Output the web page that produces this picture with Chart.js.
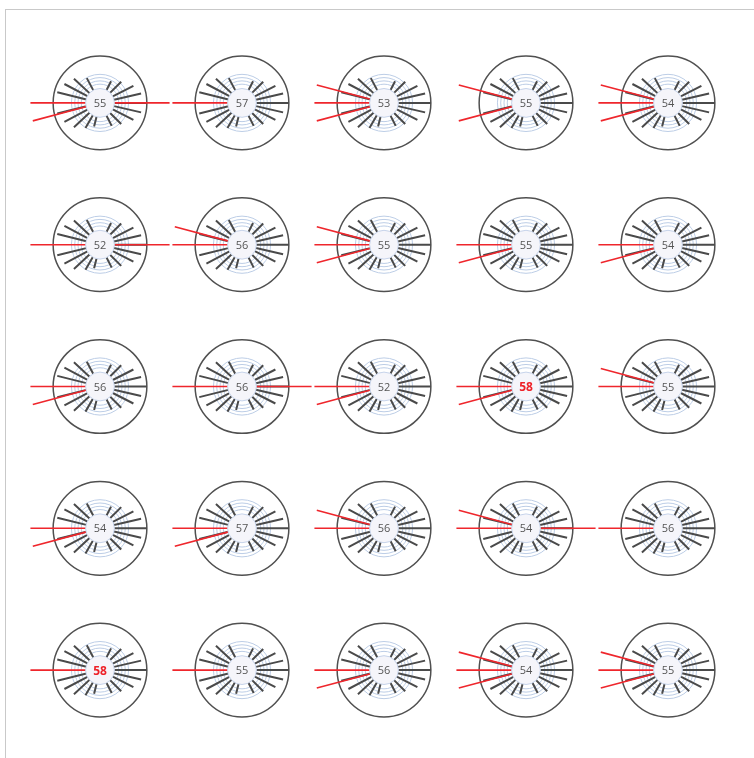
<!DOCTYPE html>
<html>
<head>
<meta charset="utf-8">
<title>Glyph grid</title>
<script src="https://cdn.jsdelivr.net/npm/chart.js@4.4.1/dist/chart.umd.min.js"></script>
<style>
    html, body { margin: 0; padding: 0; background: #fff; }
    #frame {
        position: absolute; left: 5px; top: 9px;
        width: 749px; height: 749px;
        border-top: 1px solid #c9c9c9; border-left: 1px solid #c9c9c9;
    }
    canvas { display: block; }
</style>
</head>
<body>
<div id="frame"><canvas id="myChart" width="748" height="748"></canvas></div>
<script>
// one value per glyph, read row by row (5 x 5)
const values = [55, 57, 53, 55, 54,
                52, 56, 55, 55, 54,
                56, 56, 52, 58, 55,
                54, 57, 56, 54, 56,
                58, 55, 56, 54, 55];

// which red whiskers each glyph has
const redUp    = [0, 0, 1, 1, 1,  0, 1, 1, 0, 0,  0, 0, 0, 0, 1,  0, 0, 1, 1, 0,  0, 0, 0, 1, 1];
const redMid   = [1, 1, 1, 0, 1,  1, 1, 1, 1, 1,  1, 1, 1, 1, 1,  1, 1, 1, 1, 1,  1, 1, 1, 1, 1];
const redDown  = [1, 0, 1, 1, 1,  0, 0, 1, 1, 1,  1, 0, 1, 1, 0,  1, 1, 0, 0, 0,  0, 0, 1, 1, 1];
const redRight = [1, 0, 0, 0, 0,  1, 0, 0, 0, 0,  0, 1, 0, 0, 0,  0, 0, 0, 1, 0,  0, 0, 0, 0, 0];

// spokes shared by every glyph: angle (deg, 0 = right, + = down) and length (share of the circle radius)
const spokeAngles  = [0, -13, -27, -45, -63, 13, 27, 45, 63,
                      -166, -152, -137, -118, 166, 152, 137, 120, 104];
const spokeLengths = [1.0, 0.9, 0.8, 0.64, 0.52, 0.9, 0.8, 0.64, 0.55,
                      0.94, 0.86, 0.76, 0.6, 0.94, 0.86, 0.76, 0.62, 0.52];

const COLS = 5;
const R = 0.33;        // outer circle radius, axis units
const HUB = 0.07;      // centre disc radius
const RED_LEN = 0.49;  // red whisker length
const RED_TILT = 15;   // red whisker angle

const centers = values.map((v, i) => ({ x: i % COLS + 0.5, y: Math.floor(i / COLS) + 0.5 }));
const maxValue = Math.max(...values);

function polar(c, deg, len) {
    const t = deg * Math.PI / 180;
    return { x: c.x + Math.cos(t) * len, y: c.y + Math.sin(t) * len };
}

let spokeData = [];
centers.forEach((c) => {
    spokeAngles.forEach((a, k) => {
        spokeData.push(polar(c, a, HUB), polar(c, a, spokeLengths[k] * R), { x: null, y: null });
    });
});

let redData = [];
centers.forEach((c, i) => {
    let dirs = [];
    if (redUp[i]) dirs.push(180 + RED_TILT);
    if (redMid[i]) dirs.push(180);
    if (redDown[i]) dirs.push(180 - RED_TILT);
    if (redRight[i]) dirs.push(0);
    dirs.forEach((a) => {
        redData.push(polar(c, a, HUB), polar(c, a, RED_LEN), { x: null, y: null });
    });
});

// axis units -> pixels, so circles follow the scale
function px(chart, u) {
    const s = chart.scales.x;
    if (!s) return 0;
    return Math.abs(s.getPixelForValue(u) - s.getPixelForValue(0));
}

function ring(factor) {
    return {
        data: centers,
        pointRadius: (ctx) => px(ctx.chart, R * factor),
        pointBackgroundColor: 'rgba(0,0,0,0)',
        pointBorderColor: '#bccde6',
        pointBorderWidth: 1,
        showLine: false
    };
}

const centerLabels = {
    id: 'centerLabels',
    afterDatasetsDraw(chart) {
        const { ctx, scales: { x, y } } = chart;
        ctx.save();
        ctx.textAlign = 'center';
        ctx.textBaseline = 'middle';
        values.forEach((v, i) => {
            const hi = v === maxValue;
            ctx.font = hi ? 'bold 12px "Open Sans", sans-serif' : '11px "Open Sans", sans-serif';
            ctx.fillStyle = hi ? '#ee2229' : '#555';
            ctx.fillText(String(v), x.getPixelForValue(centers[i].x), y.getPixelForValue(centers[i].y) + 1);
        });
        ctx.restore();
    }
};

// first dataset is painted last (on top)
let config = {
    type: 'scatter',
    data: {
        datasets: [
            {   // centre disc
                data: centers,
                pointRadius: (ctx) => px(ctx.chart, HUB * 1.45),
                pointBackgroundColor: '#f5f5fa',
                pointBorderColor: '#c6d3ea',
                pointBorderWidth: 1,
                showLine: false
            },
            {   // red whiskers
                data: redData,
                showLine: true,
                spanGaps: false,
                borderColor: '#ef262c',
                borderWidth: 1.6,
                pointRadius: 0
            },
            {   // spokes
                data: spokeData,
                showLine: true,
                spanGaps: false,
                borderColor: '#4a4a4a',
                borderWidth: 2,
                pointRadius: 0
            },
            {   // outer circle
                data: centers,
                pointRadius: (ctx) => px(ctx.chart, R),
                pointBackgroundColor: 'rgba(0,0,0,0)',
                pointBorderColor: '#505050',
                pointBorderWidth: 1.5,
                showLine: false
            },
            ring(0.40),
            ring(0.47),
            ring(0.54),
            ring(0.61)
        ]
    },
    options: {
        responsive: false,
        animation: false,
        events: [],
        layout: { padding: { left: 23, right: 15, top: 22, bottom: 17 } },
        plugins: { legend: { display: false }, tooltip: { enabled: false } },
        scales: {
            x: { type: 'linear', min: 0, max: 5, display: false },
            y: { type: 'linear', min: 0, max: 5, reverse: true, display: false }
        }
    },
    plugins: [centerLabels]
};

let ctx = document.getElementById('myChart').getContext('2d');
var myChart = new Chart(ctx, config);
</script>
</body>
</html>
